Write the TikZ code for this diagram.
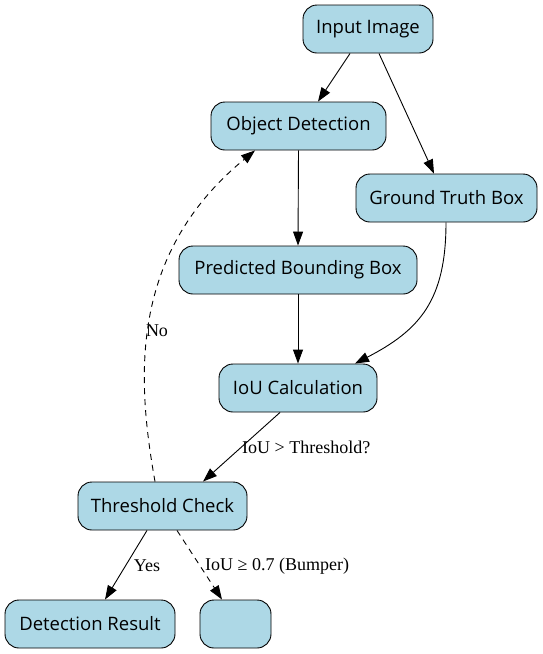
\documentclass[tikz,border=0pt]{standalone}
\usepackage{fontspec}
\setmainfont{Liberation Serif}
\newfontfamily\nodefont{Open Sans}
\usetikzlibrary{arrows.meta}
\definecolor{boxfill}{RGB}{173,216,230}
\tikzset{
  box/.style={draw=black, line width=0.9pt, fill=boxfill, rounded corners=14pt,
    minimum height=48pt, inner sep=0pt, font=\nodefont\fontsize{18.5}{22}\selectfont, text=black},
  conn/.style={line width=0.9pt, -{Triangle[length=14pt,width=10pt]}},
  dconn/.style={conn, dash pattern=on 6pt off 5pt},
  lbl/.style={font=\fontsize{18}{20}\selectfont, inner sep=0pt}
}
\begin{document}
\begin{tikzpicture}[x=1pt,y=-1pt]
\useasboundingbox (0,0) rectangle (543,654);
\node[box, minimum width=130pt] (inimg) at (368,29) {Input Image};
\node[box, minimum width=175pt] (objdet) at (298.5,126) {Object Detection};
\node[box, minimum width=181pt] (gt) at (446.5,198) {Ground Truth Box};
\node[box, minimum width=238pt] (pred) at (298,270) {Predicted Bounding Box};
\node[box, minimum width=158pt] (iou) at (298,388) {IoU Calculation};
\node[box, minimum width=169pt] (thr) at (162.5,506) {Threshold Check};
\node[box, minimum width=170pt] (det) at (90,624) {Detection Result};
\node[box, minimum width=71pt] (empty) at (235.5,624) {};

\draw[conn] ([xshift=-18pt]inimg.south) -- ([xshift=19.5pt]objdet.north);
\draw[conn] ([xshift=11pt]inimg.south) -- ([xshift=-12.5pt]gt.north);
\draw[conn] (objdet.south) -- (pred.north);
\draw[conn] (pred.south) -- (iou.north);
\draw[conn] ([xshift=-0.5pt]gt.south) .. controls (446,300) and (420,330) .. ([xshift=57pt]iou.north);
\draw[conn] ([xshift=-18pt]iou.south) -- ([xshift=40.5pt]thr.north);
\node[lbl, anchor=west] (l1) at (242,447) {IoU > Threshold?};
\draw[dconn] ([xshift=-7.5pt]thr.north) .. controls (137,380) and (128,255) .. ([xshift=-43.5pt]objdet.south);
\node[lbl] (l2) at (157,331) {No};
\draw[conn] ([xshift=-15.5pt]thr.south) -- ([xshift=15pt]det.north);
\node[lbl] (l3) at (147,566) {Yes};
\draw[dconn] ([xshift=14.5pt]thr.south) -- ([xshift=-13.5pt]empty.north);
\node[lbl, anchor=west] (l4) at (205,566) {IoU ≥ 0.7 (Bumper)};
\end{tikzpicture}
\end{document}
